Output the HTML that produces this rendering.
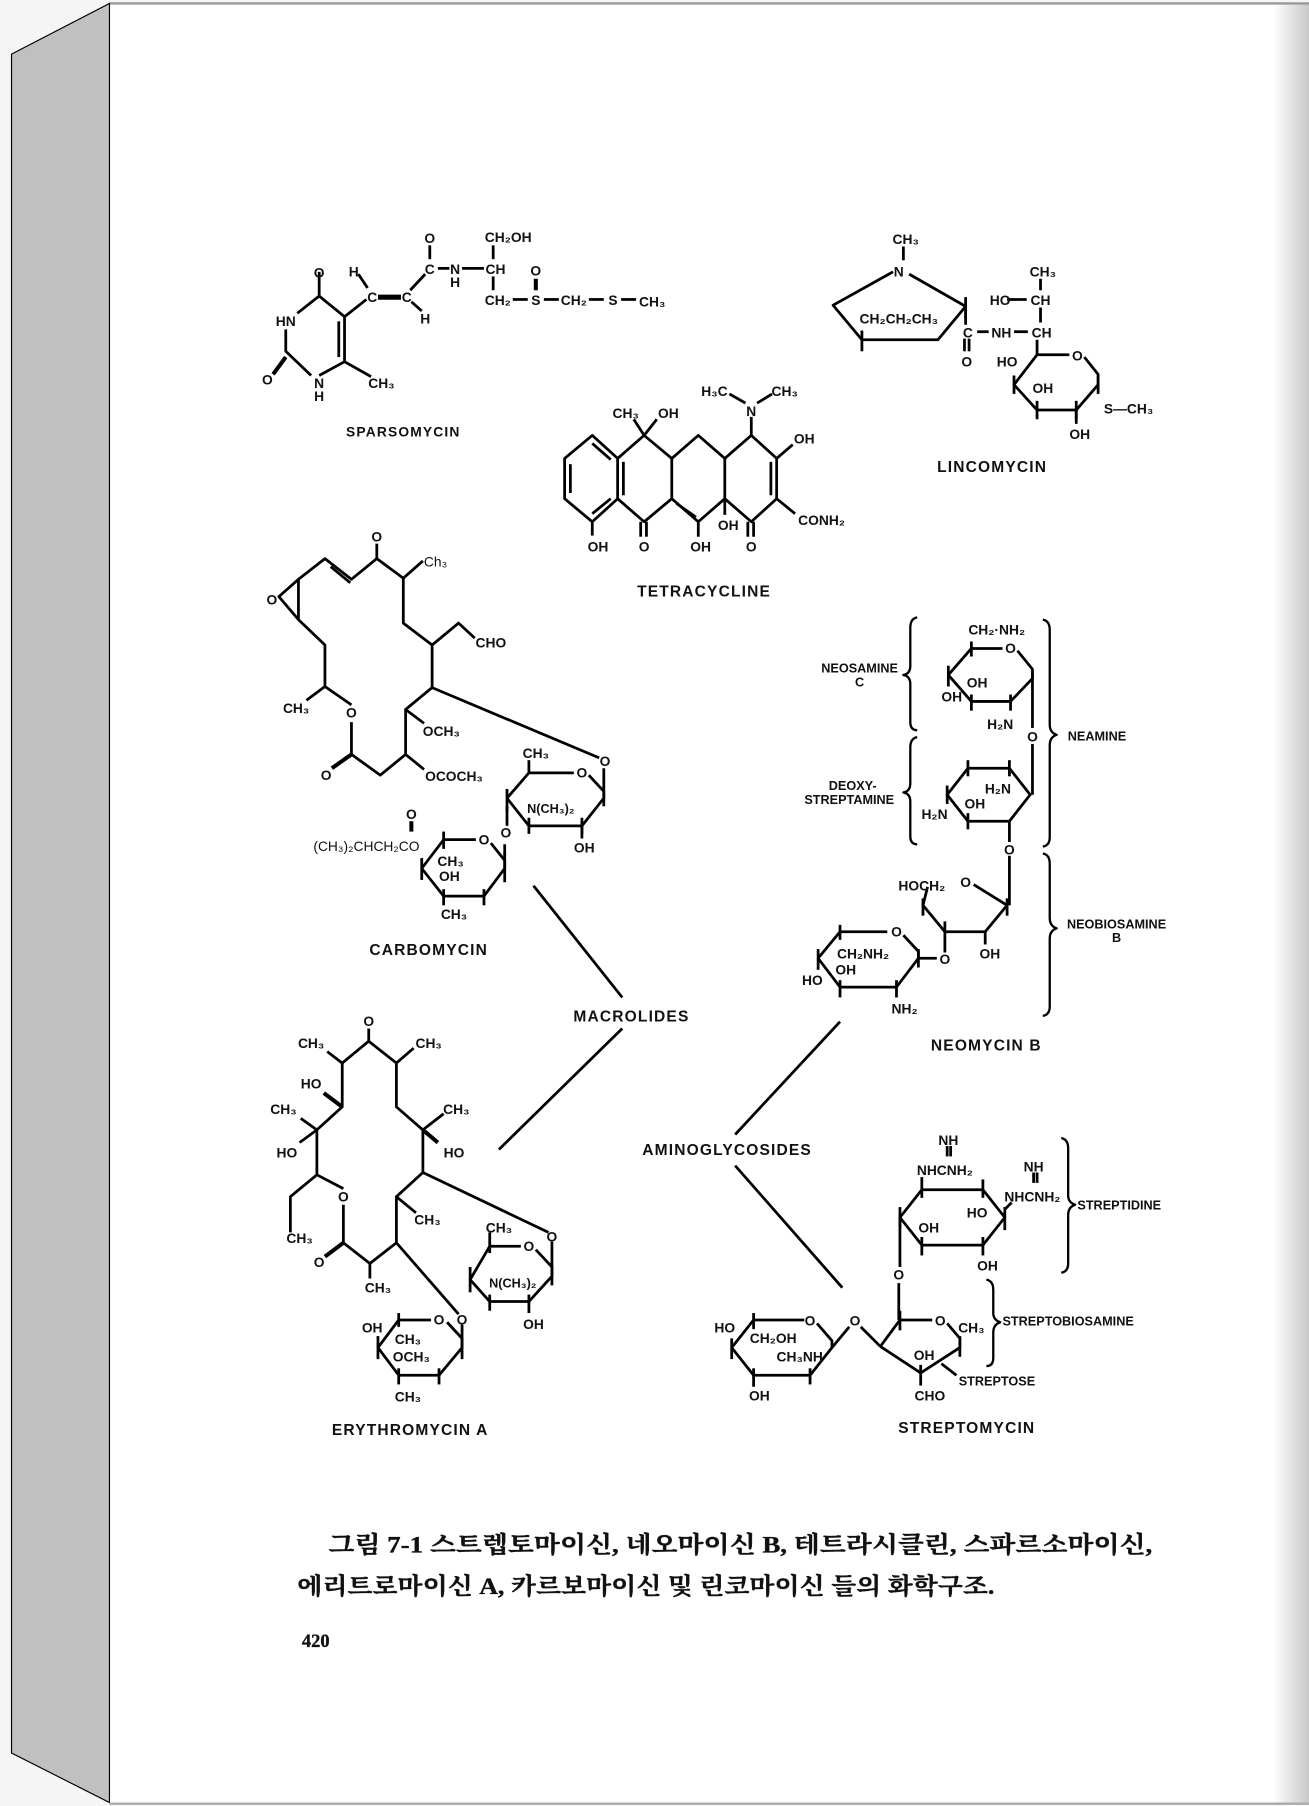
<!DOCTYPE html>
<html><head><meta charset="utf-8"><style>
html,body{margin:0;padding:0;background:#f5f5f5;}
svg{display:block}
text{font-family:"Liberation Sans","Noto Sans CJK KR",sans-serif;font-weight:bold;fill:#111}
.a{font-size:12px;text-anchor:middle}
.t{font-size:13.5px;text-anchor:middle;letter-spacing:1px}
.l{font-size:12px}
.cap{font-family:"Liberation Serif","Noto Serif CJK SC","Noto Sans CJK KR",serif;font-weight:bold;stroke:#111;stroke-width:0.3}
</style></head><body>
<svg width="1309" height="1806" viewBox="0 0 1136 1568" preserveAspectRatio="none" xmlns="http://www.w3.org/2000/svg">
<defs>
<linearGradient id="rg" x1="0" x2="1" y1="0" y2="0">
<stop offset="0" stop-color="#ffffff"/><stop offset="1" stop-color="#c8c8c8"/>
</linearGradient>
</defs>
<rect x="0" y="0" width="1136" height="1568" fill="#f5f5f5"/>
<rect x="95" y="3" width="1041" height="1562" fill="#fff"/>
<rect x="1105" y="3" width="31" height="1562" fill="url(#rg)"/>
<line x1="95" y1="3" x2="1136" y2="3" stroke="#999" stroke-width="2"/>
<polygon points="10,47 95,3 95,1565 10,1522" fill="#c0c0c0" stroke="#000" stroke-width="1"/>
<line x1="95" y1="1566" x2="1136" y2="1566" stroke="#aaa" stroke-width="2"/>

<g stroke="#000" stroke-width="2.4" fill="none" stroke-linejoin="round">
<!-- SPARSOMYCIN -->
<polyline points="277,257 299,275 299,314 277,326"/>
<polyline points="277,257 258,272"/>
<polyline points="248,286 248,305 270,326"/>
<line x1="277" y1="257" x2="277" y2="236"/>
<line x1="299" y1="314" x2="322" y2="327"/>
<line x1="294" y1="279" x2="294" y2="310"/>
<line x1="248" y1="310" x2="237" y2="325" stroke-width="3.5"/>
<line x1="299" y1="275" x2="318" y2="260"/>
<line x1="311" y1="238" x2="319" y2="250"/>
<line x1="328" y1="258" x2="348" y2="258" stroke-width="4.5"/>
<line x1="357" y1="262" x2="366" y2="270"/>
<line x1="356" y1="252" x2="369" y2="238"/>
<line x1="373" y1="213" x2="373" y2="225"/>
<line x1="380" y1="233" x2="390" y2="233"/>
<line x1="401" y1="233" x2="420" y2="233"/>
<line x1="428" y1="213" x2="428" y2="225"/>
<line x1="428" y1="240" x2="428" y2="252"/>
<line x1="445" y1="260" x2="458" y2="260"/>
<line x1="465" y1="242" x2="465" y2="252" stroke-width="3.5"/>
<line x1="472" y1="260" x2="485" y2="260"/>
<line x1="511" y1="260" x2="524" y2="260"/>
<line x1="539" y1="260" x2="552" y2="260"/>

<!-- TETRACYCLINE -->
<polygon points="490,398 514,378 536,398 536,433 514,453 490,433"/>
<polyline points="495,403 495,428"/><polyline points="514,385 530,399"/><polyline points="514,446 530,433"/>
<polyline points="536,398 559,378 583,398 583,433 559,453 536,433"/>
<polyline points="583,398 606,378 629,398 629,433 606,453 583,433"/>
<polyline points="629,398 652,378 674,398 674,433 652,453 629,433"/>
<line x1="541" y1="401" x2="541" y2="430"/>
<line x1="587" y1="437" x2="604" y2="449"/>
<line x1="669" y1="401" x2="669" y2="430"/>
<line x1="514" y1="453" x2="514" y2="465"/>
<line x1="556" y1="453" x2="556" y2="466"/><line x1="561" y1="453" x2="561" y2="466"/>
<line x1="606" y1="453" x2="606" y2="466"/>
<line x1="649" y1="453" x2="649" y2="466"/><line x1="654" y1="453" x2="654" y2="466"/>
<line x1="629" y1="433" x2="629" y2="447"/>
<line x1="674" y1="398" x2="688" y2="386"/>
<line x1="674" y1="433" x2="690" y2="446"/>
<line x1="559" y1="378" x2="550" y2="364"/><line x1="559" y1="378" x2="570" y2="364"/>
<line x1="652" y1="378" x2="652" y2="362"/>
<line x1="647" y1="350" x2="633" y2="342"/><line x1="657" y1="350" x2="670" y2="342"/>

<!-- LINCOMYCIN -->
<line x1="784" y1="214" x2="784" y2="226"/>
<polyline points="775,236 723,265 748,295 814,295 838,266 789,238"/>
<line x1="748" y1="287" x2="748" y2="305"/>
<line x1="838" y1="258" x2="838" y2="276"/>
<line x1="838" y1="270" x2="838" y2="282"/>
<line x1="837" y1="294" x2="837" y2="305"/><line x1="841" y1="294" x2="841" y2="305"/>
<line x1="848" y1="288" x2="858" y2="288"/>
<line x1="880" y1="288" x2="892" y2="288"/>
<line x1="874" y1="260" x2="891" y2="260"/>
<line x1="903" y1="242" x2="903" y2="252"/>
<line x1="903" y1="267" x2="903" y2="280"/>
<line x1="900" y1="295" x2="900" y2="308"/>
<polyline points="900,308 928,308"/>
<polyline points="941,310 953,325 953,334 934,356 900,356 880,334 900,308"/>
<line x1="880" y1="326" x2="880" y2="342"/><line x1="953" y1="326" x2="953" y2="342"/>
<line x1="900" y1="348" x2="900" y2="364"/><line x1="934" y1="348" x2="934" y2="364"/>
<line x1="934" y1="356" x2="934" y2="368"/>

<!-- CARBOMYCIN -->
<polyline points="259,503 282,485 305,503 327,485 350,502 350,541 375,560 375,597 352,616 352,655 330,673 305,655 305,627"/>
<polyline points="305,612 282,596 282,560 259,538 259,503 242,518 259,538"/>
<line x1="287" y1="492" x2="304" y2="506"/>
<line x1="327" y1="485" x2="327" y2="472"/>
<line x1="282" y1="596" x2="266" y2="608"/>
<line x1="305" y1="655" x2="288" y2="667" stroke-width="3.5"/>
<line x1="350" y1="502" x2="367" y2="487"/>
<polyline points="375,560 398,541 412,554"/>
<line x1="352" y1="616" x2="368" y2="628"/>
<line x1="352" y1="655" x2="368" y2="668"/>
<line x1="375" y1="597" x2="520" y2="658"/>
<polyline points="440,693 459,671 498,671"/><polyline points="511,673 524,687 524,693 505,717 459,717 440,693"/>
<line x1="524" y1="667" x2="524" y2="700"/>
<line x1="459" y1="671" x2="459" y2="660"/>
<line x1="440" y1="685" x2="440" y2="705"/><line x1="459" y1="710" x2="459" y2="724"/><line x1="505" y1="710" x2="505" y2="724"/>
<line x1="505" y1="717" x2="505" y2="728"/>
<line x1="440" y1="700" x2="440" y2="717"/>
<polyline points="366,754 385,729 413,729"/><polyline points="426,732 438,747 438,754 420,778 385,778 366,754"/>
<line x1="438" y1="740" x2="438" y2="766"/><line x1="438" y1="733" x2="438" y2="743"/>
<line x1="385" y1="722" x2="385" y2="737"/><line x1="366" y1="745" x2="366" y2="764"/>
<line x1="385" y1="772" x2="385" y2="786"/><line x1="420" y1="772" x2="420" y2="786"/>
<line x1="357" y1="713" x2="357" y2="722" stroke-width="3.5"/>

<!-- ERYTHROMYCIN -->
<polyline points="297,923 320,904 344,923 344,961 367,981 367,1018 344,1039 344,1079 321,1097 298,1079 298,1046"/>
<polyline points="298,1032 275,1020 275,981 297,961 297,923"/>
<line x1="320" y1="904" x2="320" y2="893"/>
<line x1="297" y1="923" x2="284" y2="913"/>
<line x1="344" y1="923" x2="359" y2="910"/>
<line x1="297" y1="961" x2="281" y2="949" stroke-width="3.5"/>
<line x1="275" y1="981" x2="261" y2="971"/>
<line x1="275" y1="981" x2="260" y2="992"/>
<line x1="367" y1="981" x2="385" y2="967"/>
<line x1="367" y1="981" x2="380" y2="992" stroke-width="3.5"/>
<polyline points="275,1020 252,1039 252,1070"/>
<line x1="298" y1="1079" x2="282" y2="1091" stroke-width="3.5"/>
<line x1="344" y1="1039" x2="361" y2="1053"/>
<line x1="321" y1="1097" x2="321" y2="1110"/>
<line x1="367" y1="1018" x2="476" y2="1070"/>
<line x1="344" y1="1079" x2="398" y2="1141"/>
<polyline points="408,1111 425,1082 452,1082"/><polyline points="465,1085 479,1100 479,1108 459,1130 425,1130 408,1111"/>
<line x1="479" y1="1078" x2="479" y2="1116"/>
<line x1="408" y1="1100" x2="408" y2="1122"/><line x1="425" y1="1124" x2="425" y2="1138"/><line x1="459" y1="1124" x2="459" y2="1140"/>
<line x1="425" y1="1070" x2="425" y2="1088"/>
<polyline points="328,1170 346,1146 374,1146"/><polyline points="388,1148 401,1162 401,1170 381,1194 346,1194 328,1170"/>
<line x1="401" y1="1150" x2="401" y2="1180"/>
<line x1="328" y1="1160" x2="328" y2="1180"/><line x1="346" y1="1140" x2="346" y2="1152"/>
<line x1="381" y1="1188" x2="381" y2="1202"/><line x1="346" y1="1188" x2="346" y2="1202"/>

<!-- connectors -->
<line x1="463" y1="769" x2="540" y2="866"/>
<line x1="540" y1="893" x2="433" y2="998"/>
<line x1="729" y1="887" x2="638" y2="985"/>
<line x1="638" y1="1012" x2="731" y2="1118"/>

<!-- NEOMYCIN -->
<polyline points="823,586 843,563 870,563"/><polyline points="883,565 896,581 896,589 877,609 843,609 823,586"/>
<line x1="843" y1="557" x2="843" y2="570"/>
<line x1="823" y1="578" x2="823" y2="596"/><line x1="843" y1="603" x2="843" y2="617"/><line x1="877" y1="603" x2="877" y2="617"/>
<line x1="896" y1="584" x2="896" y2="632"/>
<line x1="896" y1="646" x2="896" y2="690"/>
<polygon points="822,690 840,667 876,667 894,690 876,713 840,713"/>
<line x1="840" y1="660" x2="840" y2="674"/><line x1="876" y1="660" x2="876" y2="674"/>
<line x1="822" y1="682" x2="822" y2="698"/><line x1="840" y1="706" x2="840" y2="720"/>
<line x1="876" y1="713" x2="876" y2="731"/>
<line x1="876" y1="743" x2="876" y2="786"/>
<polyline points="805,770 801,786 820,809 855,809 874,786 845,768"/>
<line x1="801" y1="780" x2="801" y2="795"/><line x1="874" y1="780" x2="874" y2="795"/>
<line x1="820" y1="800" x2="820" y2="827"/><line x1="855" y1="809" x2="855" y2="820"/>
<polyline points="710,832 729,809 770,809"/><polyline points="784,812 797,826 797,832 778,857 729,857 710,832"/>
<line x1="729" y1="803" x2="729" y2="816"/><line x1="710" y1="824" x2="710" y2="842"/>
<line x1="729" y1="851" x2="729" y2="866"/><line x1="778" y1="851" x2="778" y2="866"/>
<line x1="797" y1="824" x2="797" y2="840"/>
<line x1="797" y1="832" x2="813" y2="832"/>
<path d="M796,536 Q790,537 790,545 L790,578 Q790,585 784,586 Q790,587 790,594 L790,627 Q790,634 796,634" stroke-width="2"/>
<path d="M796,640 Q790,641 790,649 L790,680 Q790,687 784,688 Q790,689 790,696 L790,726 Q790,733 796,733" stroke-width="2"/>
<path d="M905,538 Q911,539 911,547 L911,629 Q911,636 917,638 Q911,640 911,647 L911,727 Q911,734 905,735" stroke-width="2"/>
<path d="M905,741 Q911,742 911,750 L911,797 Q911,804 917,806 Q911,808 911,815 L911,874 Q911,881 905,882" stroke-width="2"/>

<!-- STREPTOMYCIN -->
<line x1="822" y1="995" x2="822" y2="1004"/><line x1="825" y1="995" x2="825" y2="1004"/>
<line x1="897" y1="1018" x2="897" y2="1027"/><line x1="900" y1="1018" x2="900" y2="1027"/>
<polygon points="781,1057 800,1033 853,1033 872,1057 853,1081 800,1081"/>
<line x1="800" y1="1022" x2="800" y2="1040"/><line x1="853" y1="1024" x2="853" y2="1040"/>
<line x1="781" y1="1048" x2="781" y2="1066"/><line x1="872" y1="1048" x2="872" y2="1068"/>
<line x1="800" y1="1074" x2="800" y2="1090"/><line x1="853" y1="1074" x2="853" y2="1090"/>
<line x1="872" y1="1050" x2="878" y2="1044"/>
<line x1="781" y1="1057" x2="781" y2="1100"/>
<line x1="780" y1="1114" x2="780" y2="1146"/>
<polyline points="764,1169 781,1146 809,1146"/><polyline points="822,1149 833,1162 833,1170 799,1192 764,1169"/>
<line x1="781" y1="1138" x2="781" y2="1155"/><line x1="833" y1="1160" x2="833" y2="1178"/>
<line x1="799" y1="1185" x2="799" y2="1203"/>
<polyline points="722,1170 737,1152"/><polyline points="747,1152 764,1169"/>
<polyline points="635,1170 654,1146 698,1146"/><polyline points="709,1149 722,1164 722,1170 703,1194 654,1194 635,1170"/>
<line x1="654" y1="1140" x2="654" y2="1154"/><line x1="635" y1="1162" x2="635" y2="1180"/>
<line x1="654" y1="1188" x2="654" y2="1204"/><line x1="703" y1="1188" x2="703" y2="1202"/>
<line x1="830" y1="1194" x2="817" y2="1184"/>
<path d="M921,988 Q927,989 927,997 L927,1038 Q927,1044 933,1046 Q927,1048 927,1055 L927,1097 Q927,1104 921,1105" stroke-width="2"/>
<path d="M856,1111 Q862,1112 862,1120 L862,1140 Q862,1146 868,1148 Q862,1150 862,1157 L862,1179 Q862,1186 856,1186" stroke-width="2"/>
</g>

<!-- LABELS -->
<g>
<text class="a" x="277" y="241">O</text>
<text class="a" x="248" y="283">HN</text>
<text class="a" x="232" y="334">O</text>
<text class="a" x="277" y="337">N</text>
<text class="a" x="277" y="348">H</text>
<text class="a" x="331" y="337">CH₃</text>
<text class="a" x="307" y="240">H</text>
<text class="a" x="323" y="262">C</text>
<text class="a" x="353" y="262">C</text>
<text class="a" x="369" y="281">H</text>
<text class="a" x="373" y="211">O</text>
<text class="a" x="373" y="238">C</text>
<text class="a" x="395" y="238">N</text>
<text class="a" x="395" y="249">H</text>
<text class="a" x="430" y="238">CH</text>
<text class="a" x="441" y="210">CH₂OH</text>
<text class="a" x="432" y="265">CH₂</text>
<text class="a" x="465" y="239">O</text>
<text class="a" x="465" y="265">S</text>
<text class="a" x="498" y="265">CH₂</text>
<text class="a" x="532" y="265">S</text>
<text class="a" x="566" y="266">CH₃</text>
<text class="t" x="350" y="379" style="font-size:12px">SPARSOMYCIN</text>

<text class="a" x="543" y="363">CH₃</text>
<text class="a" x="580" y="363">OH</text>
<text class="a" x="620" y="344">H₃C</text>
<text class="a" x="681" y="344">CH₃</text>
<text class="a" x="652" y="361">N</text>
<text class="a" x="698" y="385">OH</text>
<text class="a" x="713" y="456">CONH₂</text>
<text class="a" x="519" y="479">OH</text>
<text class="a" x="559" y="479">O</text>
<text class="a" x="608" y="479">OH</text>
<text class="a" x="632" y="460">OH</text>
<text class="a" x="652" y="479">O</text>
<text class="t" x="611" y="518">TETRACYCLINE</text>

<text class="a" x="786" y="212">CH₃</text>
<text class="a" x="780" y="240">N</text>
<text class="a" x="780" y="281">CH₂CH₂CH₃</text>
<text class="a" x="840" y="293">C</text>
<text class="a" x="839" y="318">O</text>
<text class="a" x="869" y="293">NH</text>
<text class="a" x="904" y="293">CH</text>
<text class="a" x="868" y="265">HO</text>
<text class="a" x="903" y="265">CH</text>
<text class="a" x="905" y="240">CH₃</text>
<text class="a" x="935" y="313">O</text>
<text class="a" x="874" y="318">HO</text>
<text class="a" x="905" y="341">OH</text>
<text class="l" x="958" y="359">S—CH₃</text>
<text class="a" x="937" y="381">OH</text>
<text class="t" x="861" y="410">LINCOMYCIN</text>

<text class="a" x="327" y="470">O</text>
<text class="a" x="378" y="492" style="font-weight:normal">Ch₃</text>
<text class="a" x="236" y="525">O</text>
<text class="a" x="426" y="562">CHO</text>
<text class="a" x="257" y="619">CH₃</text>
<text class="a" x="305" y="623">O</text>
<text class="a" x="283" y="677">O</text>
<text class="a" x="383" y="639">OCH₃</text>
<text class="a" x="394" y="678">OCOCH₃</text>
<text class="a" x="525" y="665">O</text>
<text class="a" x="505" y="675">O</text>
<text class="a" x="465" y="658">CH₃</text>
<text class="a" x="478" y="706" style="font-size:11px">N(CH₃)₂</text>
<text class="a" x="507" y="740">OH</text>
<text class="a" x="439" y="727">O</text>
<text class="a" x="420" y="733">O</text>
<text class="a" x="357" y="711">O</text>
<text class="a" x="318" y="739" style="font-weight:normal">(CH₃)₂CHCH₂CO</text>
<text class="a" x="391" y="752">CH₃</text>
<text class="a" x="390" y="765">OH</text>
<text class="a" x="394" y="798">CH₃</text>
<text class="t" x="372" y="829">CARBOMYCIN</text>

<text class="t" x="548" y="887">MACROLIDES</text>
<text class="t" x="631" y="1003">AMINOGLYCOSIDES</text>

<text class="a" x="320" y="891">O</text>
<text class="a" x="270" y="910">CH₃</text>
<text class="a" x="372" y="910">CH₃</text>
<text class="a" x="270" y="945">HO</text>
<text class="a" x="246" y="967">CH₃</text>
<text class="a" x="249" y="1005">HO</text>
<text class="a" x="396" y="967">CH₃</text>
<text class="a" x="394" y="1005">HO</text>
<text class="a" x="298" y="1043">O</text>
<text class="a" x="260" y="1079">CH₃</text>
<text class="a" x="277" y="1100">O</text>
<text class="a" x="371" y="1063">CH₃</text>
<text class="a" x="328" y="1122">CH₃</text>
<text class="a" x="479" y="1078">O</text>
<text class="a" x="459" y="1086">O</text>
<text class="a" x="433" y="1070">CH₃</text>
<text class="a" x="445" y="1118" style="font-size:11px">N(CH₃)₂</text>
<text class="a" x="463" y="1154">OH</text>
<text class="a" x="401" y="1150">O</text>
<text class="a" x="381" y="1150">O</text>
<text class="a" x="323" y="1157">OH</text>
<text class="a" x="354" y="1167">CH₃</text>
<text class="a" x="357" y="1182">OCH₃</text>
<text class="a" x="354" y="1217">CH₃</text>
<text class="t" x="356" y="1246">ERYTHROMYCIN A</text>

<text class="a" x="865" y="551">CH₂·NH₂</text>
<text class="a" x="877" y="567">O</text>
<text class="a" x="746" y="584" style="font-size:11px">NEOSAMINE</text>
<text class="a" x="746" y="596" style="font-size:11px">C</text>
<text class="a" x="848" y="597">OH</text>
<text class="a" x="826" y="609">OH</text>
<text class="a" x="868" y="633">H₂N</text>
<text class="a" x="896" y="644">O</text>
<text class="a" x="952" y="643" style="font-size:11px">NEAMINE</text>
<text class="a" x="740" y="686" style="font-size:11px">DEOXY-</text>
<text class="a" x="737" y="698" style="font-size:11px">STREPTAMINE</text>
<text class="a" x="866" y="689">H₂N</text>
<text class="a" x="846" y="702">OH</text>
<text class="a" x="811" y="711">H₂N</text>
<text class="a" x="876" y="742">O</text>
<text class="a" x="800" y="773">HOCH₂</text>
<text class="a" x="838" y="770">O</text>
<text class="a" x="859" y="832">OH</text>
<text class="a" x="820" y="837">O</text>
<text class="a" x="778" y="813">O</text>
<text class="a" x="969" y="806" style="font-size:11px">NEOBIOSAMINE</text>
<text class="a" x="969" y="818" style="font-size:11px">B</text>
<text class="a" x="749" y="832">CH₂NH₂</text>
<text class="a" x="734" y="846">OH</text>
<text class="a" x="705" y="855">HO</text>
<text class="a" x="785" y="880">NH₂</text>
<text class="t" x="856" y="912">NEOMYCIN B</text>

<text class="a" x="823" y="994">NH</text>
<text class="a" x="820" y="1020">NHCNH₂</text>
<text class="a" x="897" y="1017">NH</text>
<text class="a" x="896" y="1043">NHCNH₂</text>
<text class="l" x="935" y="1050" style="font-size:11px">STREPTIDINE</text>
<text class="a" x="848" y="1057">HO</text>
<text class="a" x="806" y="1070">OH</text>
<text class="a" x="857" y="1103">OH</text>
<text class="a" x="780" y="1111">O</text>
<text class="a" x="816" y="1151">O</text>
<text class="a" x="843" y="1157">CH₃</text>
<text class="l" x="870" y="1151" style="font-size:11px">STREPTOBIOSAMINE</text>
<text class="a" x="802" y="1181">OH</text>
<text class="l" x="832" y="1203" style="font-size:11px">STREPTOSE</text>
<text class="a" x="807" y="1216">CHO</text>
<text class="a" x="742" y="1151">O</text>
<text class="a" x="703" y="1151">O</text>
<text class="a" x="629" y="1157">HO</text>
<text class="a" x="671" y="1166">CH₂OH</text>
<text class="a" x="694" y="1182">CH₃NH</text>
<text class="a" x="659" y="1216">OH</text>
<text class="t" x="839" y="1244">STREPTOMYCIN</text>
</g>

<text class="cap" x="285" y="1348" style="font-size:20px" textLength="715" lengthAdjust="spacingAndGlyphs">그림 7-1  스트렙토마이신, 네오마이신 B, 테트라시클린, 스파르소마이신,</text>
<text class="cap" x="258" y="1384" style="font-size:20px" textLength="605" lengthAdjust="spacingAndGlyphs">에리트로마이신 A, 카르보마이신 및 린코마이신 들의 화학구조.</text>
<text class="cap" x="262" y="1430" style="font-size:16px">420</text>
</svg>
</body></html>
